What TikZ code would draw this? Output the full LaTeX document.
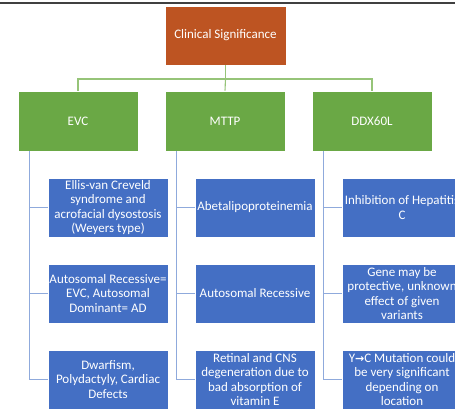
\documentclass[tikz,border=0pt]{standalone}
\usepackage{fontspec}
\setmainfont{Carlito}
\newfontfamily\arrowfont{DejaVu Sans}
\definecolor{topred}{RGB}{189,84,34}
\definecolor{genegreen}{RGB}{106,168,69}
\definecolor{factblue}{RGB}{68,111,196}
\definecolor{greenwire}{RGB}{150,196,120}
\definecolor{bluewire}{RGB}{143,170,220}
\begin{document}
\begin{tikzpicture}[x=1pt, y=-1pt,
  head/.style={rectangle, fill=topred, draw=white, line width=0.6pt, minimum width=121pt,
               minimum height=59pt, align=center, text=white, inner sep=1pt},
  gene/.style={rectangle, fill=genegreen, draw=white, line width=0.6pt, minimum width=120pt,
               minimum height=60pt, align=center, text=white, inner sep=1pt},
  fact/.style={rectangle, fill=factblue, draw=white, line width=0.6pt, minimum width=120pt,
               minimum height=59pt, align=center, text=white, inner sep=1pt},
  gwire/.style={draw=greenwire, line width=1.1pt},
  bwire/.style={draw=bluewire, line width=1.1pt}
]
  \clip (0,0) rectangle (455,413);
  \fill[white] (0,0) rectangle (455,413);
  \fontsize{13}{14.5}\selectfont

  % ===== Top frame line =====
  \draw[black!75, line width=2pt] (0,3) -- (455,3);

  % ===== Root =====
  \node[head] (root) at (225.5,35.5) {Clinical Significance};

  % ===== Genes =====
  \node[gene] (evc) at (78,121) {EVC};
  \node[gene] (mttp) at (225,121) {MTTP};
  \node[gene] (ddx) at (372,121) {DDX60L};

  % ===== Root to genes =====
  \coordinate (bus) at (225.5,79);
  \draw[gwire] (root.south) -- (bus);
  \draw[gwire] (bus) -| (evc.north);
  \draw[gwire] (bus) -| (ddx.north);
  \draw[gwire] (bus) -- (mttp.north);

  % ===== EVC facts =====
  \node[fact] (e1) at (108,207.5) {Ellis-van Creveld\\syndrome and\\acrofacial dysostosis\\(Weyers type)};
  \node[fact] (e2) at (108,293.5) {Autosomal Recessive=\\EVC, Autosomal\\Dominant= AD};
  \node[fact] (e3) at (108,379.5) {Dwarfism,\\Polydactyly, Cardiac\\Defects};

  % ===== MTTP facts =====
  \node[fact] (m1) at (255,207.5) {Abetalipoproteinemia};
  \node[fact] (m2) at (255,293.5) {Autosomal Recessive};
  \node[fact] (m3) at (255,379.5) {Retinal and CNS\\degeneration due to\\bad absorption of\\vitamin E};

  % ===== DDX60L facts =====
  \node[fact] (d1) at (402,207.5) {Inhibition of Hepatitis\\C};
  \node[fact] (d2) at (402,293.5) {Gene may be\\protective, unknown\\effect of given\\variants};
  \node[fact] (d3) at (402,379.5) {Y{\arrowfont\fontsize{11}{12}\selectfont\textbf{→}}C Mutation could\\be very significant\\depending on\\location};

  % ===== Gene to fact wires =====
  \foreach \g/\a/\b/\c in {evc/e1/e2/e3, mttp/m1/m2/m3, ddx/d1/d2/d3} {
    \coordinate (\g-rail) at ([xshift=12pt]\g.south west);
    \draw[bwire] (\g-rail) |- (\c.west);
    \draw[bwire] (\g-rail |- \a.west) -- (\a.west);
    \draw[bwire] (\g-rail |- \b.west) -- (\b.west);
  }
\end{tikzpicture}
\end{document}
